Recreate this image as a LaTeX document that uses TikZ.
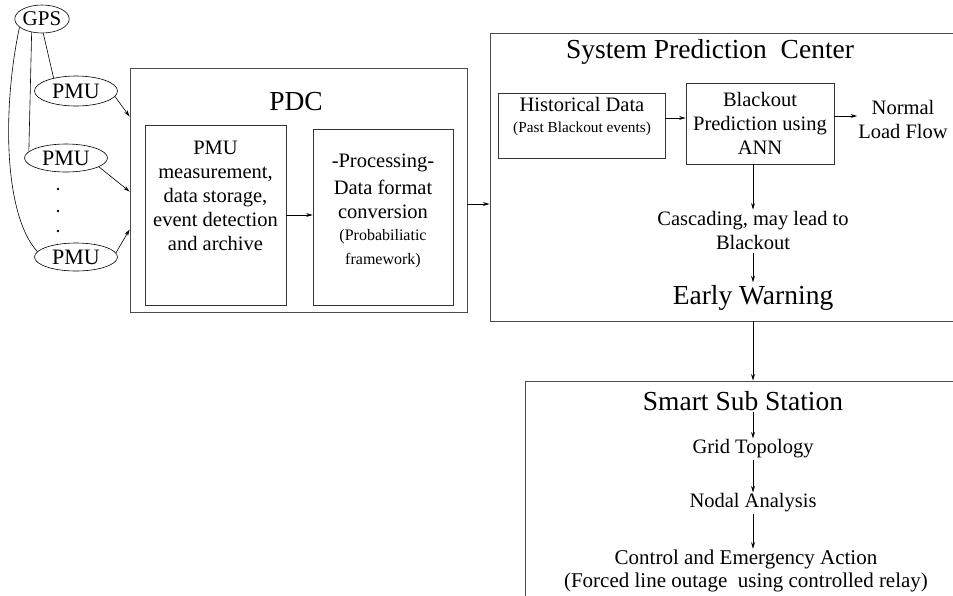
\documentclass[tikz,border=0pt]{standalone}
\usepackage{fontspec}
\setmainfont{Liberation Serif}
\usetikzlibrary{arrows.meta,shapes.geometric}
\newcommand{\bodyfont}{\fontsize{20.5}{24}\selectfont}
\newcommand{\notefont}{\fontsize{16}{19}\selectfont}
\newcommand{\titlefont}{\fontsize{27.5}{30}\selectfont}
\begin{document}
\begin{tikzpicture}[x=1pt,y=-1pt,
  frame/.style={draw=black!70, line width=0.9pt, inner sep=0pt},
  panel/.style={draw=black!80, line width=0.7pt, inner sep=0pt},
  oval/.style={draw, ellipse, line width=0.6pt, inner sep=0pt},
  arr/.style={-{Stealth[length=6.5pt,width=3.8pt]}, line width=0.6pt},
  wire/.style={line width=0.6pt},
  txt/.style={font=\bodyfont, align=center, inner sep=1pt},
  head/.style={font=\titlefont, inner sep=1pt},
  dot/.style={circle, fill, inner sep=0pt, minimum size=2.6pt},
]
\clip (0,0) rectangle (953,595);
\useasboundingbox (0,0) rectangle (953,595);

% ---------------- GPS and PMUs ----------------
\node[oval, font=\fontsize{21}{24}\selectfont, minimum width=54, minimum height=28] (gps) at (42,19) {GPS};
\node[oval, font=\fontsize{22}{24}\selectfont, minimum width=83, minimum height=30] (pmu1) at (76,91) {PMU};
\node[oval, font=\fontsize{22}{24}\selectfont, minimum width=83, minimum height=28] (pmu2) at (66,158) {PMU};
\node[oval, font=\fontsize{22}{24}\selectfont, minimum width=83, minimum height=28] (pmu3) at (76,257) {PMU};
\node[dot] (d1) at (58,189) {};
\node[dot] (d2) at (58,211) {};
\node[dot] (d3) at (58,231) {};

\draw[wire] (gps.-85) -- (pmu1.150);
\draw[wire] (gps.-128) -- (pmu2.170);
\draw[wire] (gps.-160) .. controls (2,110) and (4,215) .. (pmu3.172);

% ---------------- PDC ----------------
\node[frame, minimum width=337, minimum height=244] (pdc) at (298.5,190) {};
\node[head] (pdct) at (296,102) {PDC};
\node[panel, minimum width=141, minimum height=180] (boxa) at (215.5,215) {};
\node[panel, minimum width=140, minimum height=176] (boxb) at (383,217) {};
\node[txt] (boxat) at (215.5,196) {PMU\\measurement,\\data storage,\\event detection\\and archive};
\node[txt] (boxbt) at (383,211) {-Processing-\\[3pt]Data format\\conversion\\[-2pt]{\notefont (Probabiliatic}\\{\notefont framework)}};

\draw[arr] (pmu1.-8) -- ([yshift=-49pt]pdc.north west);
\draw[arr] (pmu2.-15) -- ([yshift=-124pt]pdc.north west);
\draw[arr] (pmu3.6) -- ([yshift=-162pt]pdc.north west);
\draw[arr] (boxa.east) -- (boxa.east -| boxb.west);

% ---------------- System Prediction Center ----------------
\node[frame, minimum width=475, minimum height=288] (spc) at (727.5,177) {};
\node[head] (spct) at (710,52) {System Prediction\ \ Center};
\node[panel, minimum width=167, minimum height=65] (hist) at (581.5,125.5) {};
\node[txt] (histt) at (582,117) {Historical Data\\[-3pt]{\fontsize{15.3}{18}\selectfont (Past Blackout events)}};
\node[panel, txt, inner sep=0pt, minimum width=148, minimum height=81] (bo) at (760,123.5) {Blackout\\Prediction using\\ANN};
\node[txt] (normal) at (903,119) {Normal\\Load Flow};
\node[txt] (casc) at (753,230) {Cascading, may lead to\\Blackout};
\node[head] (early) at (753,298) {Early Warning};

\draw[arr] ([yshift=7.5pt]hist.east) -- ([yshift=7.5pt]hist.east -| bo.west);
\draw[arr] ([yshift=7.5pt]bo.east) -- ([yshift=7.5pt]bo.east -| normal.west);
\draw[arr] (bo.south -| casc.north) -- (casc.north);
\draw[arr, shorten <=3pt, shorten >=2pt] (casc.south) -- (early.north);
\draw[arr] ([yshift=-14pt]pdc.east) -- ([yshift=-14pt]pdc.east -| spc.west);

% ---------------- Smart Sub Station ----------------
\node[frame, minimum width=440, minimum height=240] (sss) at (745,501) {};
\node[head] (ssst) at (743,401) {Smart Sub Station};
\node[txt] (grid) at (753,449) {Grid Topology};
\node[txt] (nodal) at (753,503) {Nodal Analysis};
\node[txt, font=\fontsize{21}{23}\selectfont] (ctrl) at (746,571) {Control and Emergency Action\\(Forced line outage\ \ using controlled relay)};

\draw[arr] (early.south |- spc.south) -- (early.south |- sss.north);
\draw[arr] (grid.north |- ssst.south) -- (grid.north);
\draw[arr] (grid.south) -- (nodal.north);
\draw[arr] (nodal.south) -- (nodal.south |- ctrl.north);
\end{tikzpicture}
\end{document}
